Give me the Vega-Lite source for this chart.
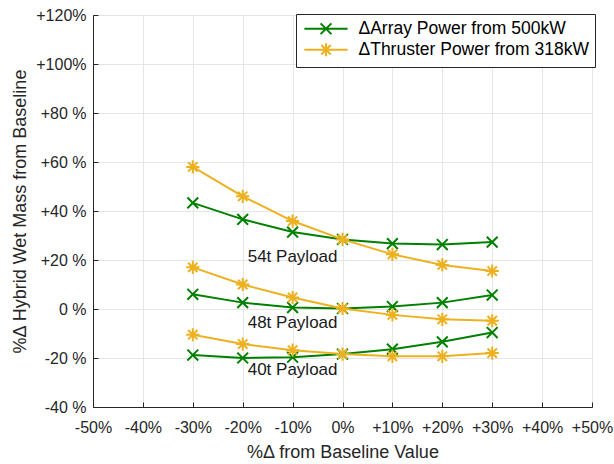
{
  "$schema": "https://vega.github.io/schema/vega-lite/v6.json",
  "width": 499,
  "height": 392,
  "autosize": {"type": "none"},
  "padding": {"left": 93, "top": 15, "right": 22, "bottom": 57},
  "background": "white",
  "config": {
    "font": "Liberation Sans",
    "view": {"stroke": "#262626", "strokeWidth": 1},
    "axis": {
      "labelFont": "Liberation Sans",
      "titleFont": "Liberation Sans",
      "labelFontSize": 16,
      "titleFontSize": 18,
      "labelColor": "#262626",
      "titleColor": "#262626",
      "titleFontWeight": "normal",
      "domainColor": "#262626",
      "tickColor": "#262626",
      "gridColor": "#e6e6e6",
      "gridWidth": 1,
      "labelOverlap": false,
      "labelFlush": false
    }
  },
  "datasets": {
    "pts": [
      {"payload": "54t", "series": "ΔArray Power from 500kW", "x": -30, "y": 43.3},
      {"payload": "54t", "series": "ΔArray Power from 500kW", "x": -20, "y": 36.6},
      {"payload": "54t", "series": "ΔArray Power from 500kW", "x": -10, "y": 31.4},
      {"payload": "54t", "series": "ΔArray Power from 500kW", "x": 0, "y": 28.4},
      {"payload": "54t", "series": "ΔArray Power from 500kW", "x": 10, "y": 26.7},
      {"payload": "54t", "series": "ΔArray Power from 500kW", "x": 20, "y": 26.3},
      {"payload": "54t", "series": "ΔArray Power from 500kW", "x": 30, "y": 27.3},
      {"payload": "54t", "series": "ΔThruster Power from 318kW", "x": -30, "y": 58},
      {"payload": "54t", "series": "ΔThruster Power from 318kW", "x": -20, "y": 46},
      {"payload": "54t", "series": "ΔThruster Power from 318kW", "x": -10, "y": 35.9},
      {"payload": "54t", "series": "ΔThruster Power from 318kW", "x": 0, "y": 28.4},
      {"payload": "54t", "series": "ΔThruster Power from 318kW", "x": 10, "y": 22.3},
      {"payload": "54t", "series": "ΔThruster Power from 318kW", "x": 20, "y": 18},
      {"payload": "54t", "series": "ΔThruster Power from 318kW", "x": 30, "y": 15.5},
      {"payload": "48t", "series": "ΔArray Power from 500kW", "x": -30, "y": 6},
      {"payload": "48t", "series": "ΔArray Power from 500kW", "x": -20, "y": 2.6},
      {"payload": "48t", "series": "ΔArray Power from 500kW", "x": -10, "y": 0.6},
      {"payload": "48t", "series": "ΔArray Power from 500kW", "x": 0, "y": 0.2},
      {"payload": "48t", "series": "ΔArray Power from 500kW", "x": 10, "y": 1},
      {"payload": "48t", "series": "ΔArray Power from 500kW", "x": 20, "y": 2.6},
      {"payload": "48t", "series": "ΔArray Power from 500kW", "x": 30, "y": 5.7},
      {"payload": "48t", "series": "ΔThruster Power from 318kW", "x": -30, "y": 17},
      {"payload": "48t", "series": "ΔThruster Power from 318kW", "x": -20, "y": 10},
      {"payload": "48t", "series": "ΔThruster Power from 318kW", "x": -10, "y": 4.7},
      {"payload": "48t", "series": "ΔThruster Power from 318kW", "x": 0, "y": 0.2},
      {"payload": "48t", "series": "ΔThruster Power from 318kW", "x": 10, "y": -2.4},
      {"payload": "48t", "series": "ΔThruster Power from 318kW", "x": 20, "y": -4.2},
      {"payload": "48t", "series": "ΔThruster Power from 318kW", "x": 30, "y": -4.8},
      {"payload": "40t", "series": "ΔArray Power from 500kW", "x": -30, "y": -18.8},
      {"payload": "40t", "series": "ΔArray Power from 500kW", "x": -20, "y": -20},
      {"payload": "40t", "series": "ΔArray Power from 500kW", "x": -10, "y": -19.7},
      {"payload": "40t", "series": "ΔArray Power from 500kW", "x": 0, "y": -18.4},
      {"payload": "40t", "series": "ΔArray Power from 500kW", "x": 10, "y": -16.4},
      {"payload": "40t", "series": "ΔArray Power from 500kW", "x": 20, "y": -13.4},
      {"payload": "40t", "series": "ΔArray Power from 500kW", "x": 30, "y": -9.6},
      {"payload": "40t", "series": "ΔThruster Power from 318kW", "x": -30, "y": -10.5},
      {"payload": "40t", "series": "ΔThruster Power from 318kW", "x": -20, "y": -14.3},
      {"payload": "40t", "series": "ΔThruster Power from 318kW", "x": -10, "y": -16.8},
      {"payload": "40t", "series": "ΔThruster Power from 318kW", "x": 0, "y": -18.4},
      {"payload": "40t", "series": "ΔThruster Power from 318kW", "x": 10, "y": -19.3},
      {"payload": "40t", "series": "ΔThruster Power from 318kW", "x": 20, "y": -19.3},
      {"payload": "40t", "series": "ΔThruster Power from 318kW", "x": 30, "y": -18}
    ],
    "labels": [
      {"label": "54t Payload", "x": -10, "y": 21.4},
      {"label": "48t Payload", "x": -10, "y": -5.9},
      {"label": "40t Payload", "x": -10, "y": -24.8}
    ]
  },
  "layer": [
    {
      "data": {"name": "pts"},
      "mark": {"type": "line", "strokeWidth": 2},
      "encoding": {
        "x": {"field": "x", "type": "quantitative",
          "scale": {"domain": [-50, 50], "nice": false, "zero": false},
          "axis": {"title": "%Δ from Baseline Value", "values": [-50, -40, -30, -20, -10, 0, 10, 20, 30, 40, 50],
            "labelExpr": "(datum.value > 0 ? '+' : '') + datum.value + '%'",
            "grid": true, "tickSize": -5, "labelPadding": 17, "titlePadding": 8}},
        "y": {"field": "y", "type": "quantitative",
          "scale": {"domain": [-40, 120], "nice": false, "zero": false},
          "axis": {"title": "%Δ Hybrid Wet Mass from Baseline", "values": [-40, -20, 0, 20, 40, 60, 80, 100, 120],
            "labelExpr": "(datum.value > 0 ? '+' : '') + datum.value + (datum.value >= 100 ? '%' : ' %')",
            "grid": true, "tickSize": -5, "labelPadding": 12, "titlePadding": 6}},
        "color": {"field": "series", "type": "nominal",
          "scale": {"domain": ["ΔArray Power from 500kW", "ΔThruster Power from 318kW"], "range": ["#008000", "#EDB120"]},
          "legend": {
            "title": null, "orient": "none", "legendX": 203, "legendY": -1,
            "labelFontSize": 17.5, "labelFont": "Liberation Sans", "labelColor": "#000000", "labelFontWeight": "normal",
            "labelLimit": 400,
            "strokeColor": "#262626", "fillColor": "white", "padding": 6,
            "symbolSize": 144, "symbolStrokeWidth": 2,
            "labelOffset": 39, "rowPadding": 0,
            "encode": {"symbols": {"update": {
              "x": {"value": 24},
              "shape": {"signal": "indexof(datum.value, 'Array') >= 0 ? 'M-3.6,0L3.6,0M-0.9,-0.9L0.9,0.9M-0.9,0.9L0.9,-0.9' : 'M-3.6,0L3.6,0M-1.1,0L1.1,0M0,-1.1L0,1.1M-0.78,-0.78L0.78,0.78M-0.78,0.78L0.78,-0.78'"}}}}
          }},
        "detail": {"field": "payload"}
      }
    },
    {
      "data": {"name": "pts"},
      "transform": [{"filter": {"field": "series", "equal": "ΔArray Power from 500kW"}}],
      "mark": {"type": "point", "filled": false, "strokeWidth": 2, "size": 144, "opacity": 1, "shape": "M-0.9,-0.9L0.9,0.9M-0.9,0.9L0.9,-0.9"},
      "encoding": {
        "x": {"field": "x", "type": "quantitative"},
        "y": {"field": "y", "type": "quantitative"},
        "color": {"field": "series", "type": "nominal"}
      }
    },
    {
      "data": {"name": "pts"},
      "transform": [{"filter": {"field": "series", "equal": "ΔThruster Power from 318kW"}}],
      "mark": {"type": "point", "filled": false, "strokeWidth": 2, "size": 144, "opacity": 1, "shape": "M-1.1,0L1.1,0M0,-1.1L0,1.1M-0.78,-0.78L0.78,0.78M-0.78,0.78L0.78,-0.78"},
      "encoding": {
        "x": {"field": "x", "type": "quantitative"},
        "y": {"field": "y", "type": "quantitative"},
        "color": {"field": "series", "type": "nominal"}
      }
    },
    {
      "data": {"name": "labels"},
      "mark": {"type": "text", "fontSize": 17, "font": "Liberation Sans", "color": "#1a1a1a", "align": "center", "baseline": "middle"},
      "encoding": {
        "x": {"field": "x", "type": "quantitative"},
        "y": {"field": "y", "type": "quantitative"},
        "text": {"field": "label"}
      }
    }
  ]
}
